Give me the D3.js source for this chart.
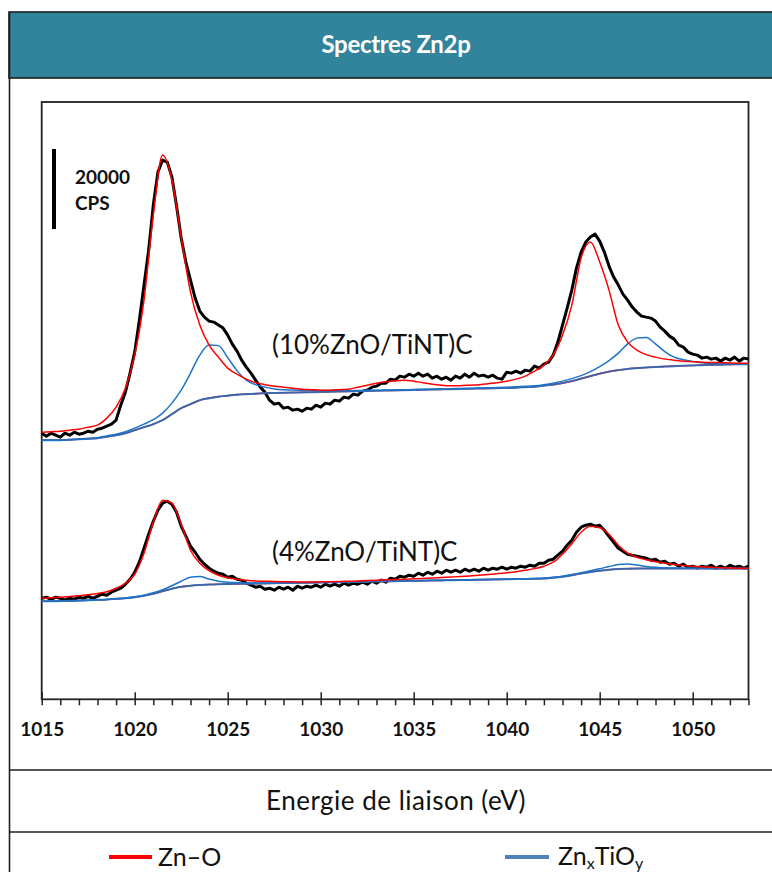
<!DOCTYPE html>
<html>
<head>
<meta charset="utf-8">
<script src="https://cdn.jsdelivr.net/npm/d3@7"></script>
<style>
  html, body { margin: 0; padding: 0; background: #fff; }
  svg { display: block; font-family: Lato, "Open Sans", sans-serif; }
</style>
</head>
<body>
<svg id="chart" width="772" height="872"></svg>
<script>
// ---------------------------------------------------------------
// Zn2p XPS spectra (CPS) with their fitted components.
// Measured spectra are sampled every 0.25 eV, fits every 0.5 eV.
// ---------------------------------------------------------------
const sampleNames = ["(10%ZnO/TiNT)C", "(4%ZnO/TiNT)C"];
const verticalShift = [55000, 15000];           // stacking offset of each spectrum (CPS)
const majorTicks = [1015, 1020, 1025, 1030, 1035, 1040, 1045, 1050];
const energyRange = [1015, 1053];
const cpsMax = 149250;
const scaleBarCPS = 20000;
const scaleBarBase = 117500;
const legendLabels = ["Zn–O", "ZnxTiOy"];

// (10%ZnO/TiNT)C — measured, 1015 → 1053 eV, step 0.25 eV
const spectrum10 = [
  11500, 10750, 11500, 11000, 10500, 11500, 11000, 11750, 11250, 11500, 12000, 11750,
  12500, 12750, 13250, 13750,
  14750, 18500, 21750, 26500,
  31750, 39750, 48500, 57250,
  68500, 76750, 79750, 79250,
  75500, 68250, 60250, 54250,
  49750, 45250, 42000, 40500,
  39500, 39250, 38500, 37750,
  36000, 33750, 32000, 29750,
  28000, 26500, 24750, 23000,
  21750, 19750, 18750, 19000,
  17750, 18000, 17250, 17500,
  17000, 17750, 17500, 18500,
  18000, 19000, 18750, 19750,
  19500, 20500, 20250, 21250,
  21000, 22000, 22250, 23000,
  23250, 24000, 24000, 25000,
  24750, 25750, 25500, 26250,
  25750, 26500, 25750, 26250,
  25250, 25750, 25000, 25500,
  24750, 25750, 25250, 26250,
  25500, 26500, 25750, 26000,
  25500, 26000, 25250, 25000,
  26750, 26500, 27000, 26500,
  27250, 27000, 28250, 27750,
  28750, 29250, 31000, 34250,
  38500, 42750, 47250, 52750,
  56750, 59250, 60500, 61250,
  59500, 56750, 53250, 50500,
  48500, 46250, 44750, 43000,
  41750, 40750, 40500, 40250,
  39500, 38000, 37000, 35750,
  35000, 33500, 33000, 31750,
  31250, 31000, 30250, 30500,
  30000, 30250, 29500, 30250,
  29750, 30500, 29500, 30250,
  30000
];
// Zn–O component (with background), step 0.5 eV
const znO10 = [
  11750, 11875, 12000, 12250, 12500, 13000, 13500, 15250, 18000, 22750,
  31000, 44750, 66000, 81000, 74750, 60500, 46750, 38500, 33500, 30500,
  27750, 26250, 25000, 24125, 23625, 23250, 23000, 22750, 22500, 22375,
  22250, 22250, 22375, 22500, 23000, 23500, 24000, 24375, 24625, 24750,
  24500, 24125, 23750, 23500, 23375, 23375, 23500, 23625, 23875, 24125,
  24500, 25000, 25750, 27000, 28500, 31000, 36000, 43500, 55250, 59250,
  54250, 47250, 38500, 34250, 32250, 31125, 30500, 30000, 29750, 29500,
  29375, 29250, 29175, 29125, 29050, 29000, 29000
];
// ZnxTiOy component (with background)
const znTiO10 = [
  9750, 9750, 9750, 9875, 10000, 10125, 10375, 10825, 11250, 11875,
  12750, 13750, 14875, 16500, 19000, 22250, 26500, 31000, 33500, 33375,
  30375, 27125, 24750, 23625, 23000, 22550, 22350, 22275, 22200, 22200,
  22175, 22150, 22150, 22150, 22175, 22200, 22225, 22275, 22300, 22350,
  22400, 22450, 22500, 22550, 22600, 22675, 22725, 22775, 22850, 22900,
  22975, 23075, 23200, 23350, 23625, 24000, 24500, 25125, 25875, 26875,
  28125, 29625, 31500, 33800, 35250, 35425, 33800, 31900, 30500, 29850,
  29425, 29125, 28950, 28875, 28850, 28850, 28825
];
// Shirley background
const background10 = [
  9750, 9750, 9750, 9875, 10000, 10125, 10250, 10625, 11000, 11500,
  12250, 13000, 13750, 14750, 16250, 17750, 18750, 19750, 20250, 20625,
  20875, 21125, 21250, 21375, 21500, 21550, 21600, 21650, 21700, 21750,
  21800, 21850, 21900, 21950, 22000, 22050, 22100, 22150, 22200, 22250,
  22300, 22350, 22400, 22450, 22500, 22550, 22600, 22650, 22700, 22750,
  22800, 22875, 23000, 23125, 23375, 23625, 24000, 24500, 25125, 25750,
  26375, 26875, 27250, 27550, 27750, 27925, 28050, 28150, 28250, 28350,
  28425, 28500, 28575, 28625, 28675, 28725, 28750
];

// (4%ZnO/TiNT)C — measured, step 0.25 eV
const spectrum4 = [
  10250, 10500, 10000, 10500, 10250, 9750, 10250, 10000, 10500, 10250, 10750, 10250,
  10750, 11250, 11000, 11750,
  12250, 12750, 13750, 15000,
  16750, 19250, 22750, 26250,
  29500, 32250, 34000, 34500,
  33750, 31750, 28250, 25750,
  23250, 21750, 20000, 18750,
  17750, 17000, 16500, 16250,
  15500, 15750, 15000, 14750,
  14000, 13500, 13000, 13250,
  12500, 12750, 12250, 13000,
  12500, 13000, 12250, 13250,
  12750, 13250, 13000, 13500,
  13000, 13750, 13250, 13750,
  13250, 14000, 13500, 14000,
  13750, 14250, 13750, 14500,
  14000, 14750, 14250, 15250,
  15000, 15750, 15500, 16000,
  15750, 16500, 16000, 16750,
  16250, 17000, 16500, 17250,
  16750, 17250, 16750, 17500,
  17000, 17500, 17000, 17750,
  17250, 17750, 17500, 18000,
  17500, 18000, 17750, 18250,
  18000, 18500, 18250, 19000,
  19000, 19750, 20000, 21000,
  22000, 23500, 24750, 26750,
  28000, 28500, 28750, 28250,
  28500, 27250, 25750, 24250,
  22750, 22000, 21250, 21000,
  20750, 20500, 20250, 19750,
  20000, 19250, 19500, 18750,
  19000, 18250, 18750, 18000,
  18250, 17750, 18250, 18000,
  18500, 17750, 18250, 17750,
  18500, 18000, 18250, 17750,
  18250
];
const znO4 = [
  10250, 10375, 10500, 10675, 10875, 11125, 11425, 11875, 12750, 14000,
  16250, 21500, 29250, 34750, 34000, 28750, 22250, 19000, 17125, 16000,
  15375, 15000, 14750, 14575, 14500, 14425, 14375, 14350, 14325, 14325,
  14350, 14375, 14425, 14500, 14575, 14675, 14750, 14850, 14925, 15000,
  15100, 15200, 15300, 15425, 15550, 15675, 15825, 16000, 16200, 16400,
  16625, 16900, 17250, 17650, 18250, 19250, 21250, 23875, 26750, 28250,
  27875, 26250, 23500, 21500, 20500, 19875, 19375, 19000, 18675, 18425,
  18250, 18100, 17975, 17875, 17800, 17750, 17700
];
const znTiO4 = [
  9500, 9500, 9550, 9600, 9675, 9750, 9850, 9950, 10100, 10300,
  10600, 11025, 11625, 12375, 13375, 14500, 15500, 15675, 15050, 14500,
  14250, 14150, 14075, 14065, 14080, 14095, 14110, 14150, 14165, 14205,
  14245, 14285, 14325, 14365, 14405, 14445, 14485, 14525, 14565, 14605,
  14645, 14685, 14725, 14765, 14805, 14845, 14885, 14925, 14965, 15005,
  15045, 15090, 15125, 15200, 15300, 15500, 15775, 16175, 16625, 17125,
  17625, 18175, 18675, 18800, 18550, 18175, 17975, 17875, 17800, 17775,
  17750, 17725, 17710, 17700, 17695, 17690, 17685
];
const background4 = [
  9500, 9500, 9550, 9600, 9675, 9750, 9850, 9950, 10100, 10250,
  10500, 10875, 11375, 12000, 12625, 13125, 13375, 13550, 13675, 13750,
  13800, 13850, 13875, 13915, 13955, 13995, 14035, 14075, 14115, 14155,
  14195, 14235, 14275, 14315, 14355, 14395, 14435, 14475, 14515, 14555,
  14595, 14635, 14675, 14715, 14755, 14795, 14835, 14875, 14915, 14955,
  14995, 15035, 15075, 15125, 15200, 15375, 15625, 16000, 16425, 16800,
  17125, 17375, 17550, 17625, 17675, 17675, 17675, 17675, 17675, 17675,
  17675, 17675, 17675, 17675, 17675, 17675, 17675
];

const energyFine = d3.range(spectrum10.length).map(i => energyRange[0] + i * 0.25);
const energyFit = d3.range(znO10.length).map(i => energyRange[0] + i * 0.5);

const samples = [
  { name: sampleNames[0], shift: verticalShift[0], measured: spectrum10, zno: znO10, zntio: znTiO10, bg: background10, labelY: 354 },
  { name: sampleNames[1], shift: verticalShift[1], measured: spectrum4, zno: znO4, zntio: znTiO4, bg: background4, labelY: 561 }
];

// ---------------------------------------------------------------
const COLORS = { title: "#31849B", frame: "#1e1e1e", zno: "#FF0000", zntio: "#1B74C8", legendBlue: "#4F81BD" };
const plot = { left: 41.7, right: 748.5, top: 102, bottom: 699.3 };

const svg = d3.select("#chart");

const x = d3.scaleLinear().domain(energyRange).range([plot.left, plot.right]);
const y = d3.scaleLinear().domain([0, cpsMax]).range([plot.bottom, plot.top]);

// Table frame: title band, plot cell, axis-title cell, legend cell
svg.append("rect").attr("x", 9).attr("y", 12).attr("width", 780).attr("height", 66)
  .attr("fill", COLORS.title).attr("stroke", COLORS.frame).attr("stroke-width", 1.6);
svg.append("line").attr("x1", 9.5).attr("x2", 9.5).attr("y1", 12).attr("y2", 872)
  .attr("stroke", COLORS.frame).attr("stroke-width", 1.6);
[770, 832].forEach(yy => {
  svg.append("line").attr("x1", 9).attr("x2", 772).attr("y1", yy).attr("y2", yy)
    .attr("stroke", COLORS.frame).attr("stroke-width", 1.6);
});

svg.append("text").attr("x", 396).attr("y", 53).attr("text-anchor", "middle")
  .attr("fill", "#fff").attr("font-weight", 700).attr("font-size", 24)
  .attr("letter-spacing", -0.3)
  .text("Spectres Zn2p");

// Plot box
svg.append("rect").attr("x", plot.left).attr("y", plot.top)
  .attr("width", plot.right - plot.left).attr("height", plot.bottom - plot.top)
  .attr("fill", "none").attr("stroke", "#222").attr("stroke-width", 1.8);

// x axis: minor ticks every eV, major every 5 eV (crossing the axis)
const minorTicks = d3.range(energyRange[0], energyRange[1] + 1).filter(d => !majorTicks.includes(d));
const gMinor = svg.append("g").attr("transform", `translate(0,${plot.bottom})`)
  .call(d3.axisBottom(x).tickValues(minorTicks).tickSize(6).tickSizeOuter(0).tickFormat(""));
gMinor.select(".domain").remove();
gMinor.selectAll(".tick line").attr("stroke", "#222").attr("stroke-width", 1.5);

const gMajor = svg.append("g").attr("transform", `translate(0,${plot.bottom})`)
  .call(d3.axisBottom(x).tickValues(majorTicks).tickSize(6).tickSizeOuter(0).tickFormat(d3.format("d")));
gMajor.select(".domain").remove();
gMajor.selectAll(".tick line").attr("y1", -7).attr("y2", 6).attr("stroke", "#222").attr("stroke-width", 1.5);
gMajor.selectAll(".tick text").attr("y", 36.5).attr("dy", null)
  .attr("font-family", "Lato, sans-serif").attr("font-size", 19).attr("font-weight", 700).attr("fill", "#111");

// Spectra
const plotArea = svg.append("g");
samples.forEach(s => {
  const fine = d3.line().x((d, i) => x(energyFine[i])).y(d => y(d + s.shift)).curve(d3.curveLinear);
  const fit = d3.line().x((d, i) => x(energyFit[i])).y(d => y(d + s.shift)).curve(d3.curveMonotoneX);

  plotArea.append("path").attr("d", fine(s.measured)).attr("fill", "none")
    .attr("stroke", "#000").attr("stroke-width", 3).attr("stroke-linejoin", "round");
  plotArea.append("path").attr("d", fit(s.bg)).attr("fill", "none")
    .attr("stroke", COLORS.zno).attr("stroke-width", 1.6);
  plotArea.append("path").attr("d", fit(s.bg)).attr("fill", "none")
    .attr("stroke", COLORS.zntio).attr("stroke-width", 2).attr("stroke-opacity", 0.85);
  plotArea.append("path").attr("d", fit(s.zntio)).attr("fill", "none")
    .attr("stroke", COLORS.zntio).attr("stroke-width", 1.5);
  plotArea.append("path").attr("d", fit(s.zno)).attr("fill", "none")
    .attr("stroke", COLORS.zno).attr("stroke-width", 1.5);

  svg.append("text").attr("x", 272).attr("y", s.labelY)
    .attr("font-size", 26).attr("fill", "#111").text(s.name);
});

// 20000 CPS scale bar
const barX = x(1015.66);
svg.append("line").attr("x1", barX).attr("x2", barX)
  .attr("y1", y(scaleBarBase)).attr("y2", y(scaleBarBase + scaleBarCPS))
  .attr("stroke", "#000").attr("stroke-width", 4);
svg.append("text").attr("x", barX + 21).attr("y", 184)
  .attr("font-size", 19).attr("font-weight", 700).attr("fill", "#111").text(d3.format("d")(scaleBarCPS));
svg.append("text").attr("x", barX + 21).attr("y", 210)
  .attr("font-size", 19).attr("font-weight", 700).attr("fill", "#111").text("CPS");

// Axis title
svg.append("text").attr("x", 396).attr("y", 810).attr("text-anchor", "middle")
  .attr("font-size", 26).attr("letter-spacing", 0.5).attr("fill", "#111").text("Energie de liaison (eV)");

// Legend
svg.append("line").attr("x1", 109).attr("x2", 152).attr("y1", 857).attr("y2", 857)
  .attr("stroke", COLORS.zno).attr("stroke-width", 4);
svg.append("text").attr("x", 158).attr("y", 866).attr("font-size", 25).attr("fill", "#111").text(legendLabels[0]);
svg.append("line").attr("x1", 505).attr("x2", 549).attr("y1", 857).attr("y2", 857)
  .attr("stroke", COLORS.legendBlue).attr("stroke-width", 4);
const lt = svg.append("text").attr("x", 558).attr("y", 865).attr("font-size", 25).attr("fill", "#111");
lt.append("tspan").text("Zn");
lt.append("tspan").attr("font-size", 16).attr("dy", 4).text("x");
lt.append("tspan").attr("dy", -4).text("TiO");
lt.append("tspan").attr("font-size", 16).attr("dy", 4).text("y");
</script>
</body>
</html>
